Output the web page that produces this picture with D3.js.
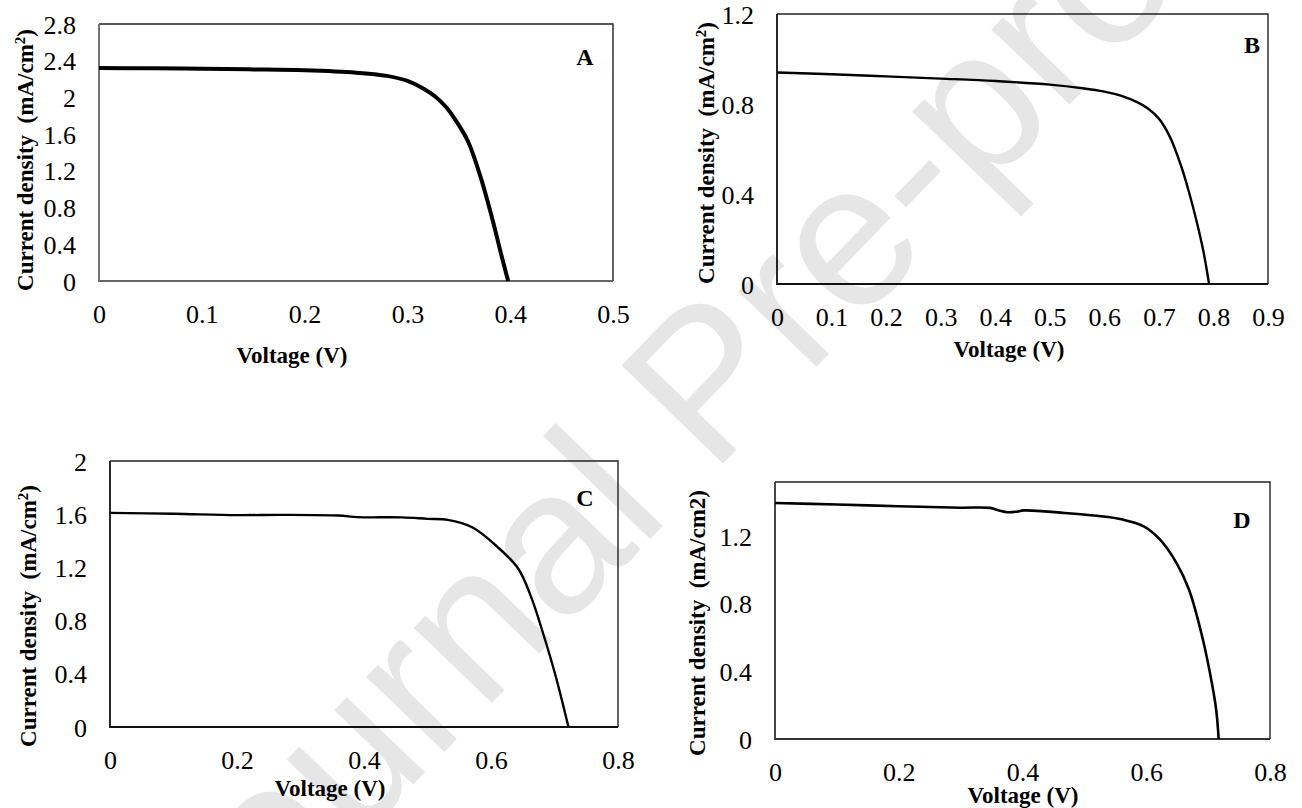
<!DOCTYPE html>
<html>
<head>
<meta charset="utf-8">
<script src="https://cdn.jsdelivr.net/npm/d3@7"></script>
<style>
  body { margin: 0; background: #fff; }
  svg { display: block; }
</style>
</head>
<body>
<svg id="chart" width="1302" height="808"></svg>
<script>
// J-V curves (voltage in V, current density in mA/cm2)
const voltageA = [0, 0.05, 0.1, 0.15, 0.2, 0.25, 0.28, 0.3, 0.315, 0.327, 0.338, 0.347, 0.359, 0.371, 0.383, 0.391, 0.398];
const currentA = [2.32, 2.317, 2.312, 2.305, 2.295, 2.27, 2.235, 2.18, 2.10, 2.01, 1.89, 1.75, 1.52, 1.14, 0.66, 0.30, 0];

const voltageB = [0, 0.1, 0.2, 0.3, 0.4, 0.5, 0.56, 0.6, 0.63, 0.66, 0.68, 0.7, 0.72, 0.74, 0.755, 0.77, 0.782, 0.792];
const currentB = [0.94, 0.932, 0.923, 0.913, 0.902, 0.886, 0.87, 0.855, 0.837, 0.808, 0.78, 0.735, 0.655, 0.53, 0.41, 0.27, 0.14, 0];

const voltageC = [0, 0.1, 0.2, 0.27, 0.36, 0.39, 0.46, 0.5, 0.532, 0.571, 0.61, 0.643, 0.663, 0.682, 0.702, 0.722];
const currentC = [1.61, 1.603, 1.593, 1.595, 1.59, 1.578, 1.576, 1.565, 1.557, 1.50, 1.355, 1.19, 0.98, 0.705, 0.38, 0];

const voltageD = [0, 0.1, 0.2, 0.3, 0.347, 0.362, 0.376, 0.39, 0.402, 0.468, 0.52, 0.562, 0.596, 0.622, 0.649, 0.669, 0.689, 0.703, 0.713, 0.717];
const currentD = [1.396, 1.387, 1.377, 1.368, 1.367, 1.352, 1.341, 1.344, 1.352, 1.337, 1.32, 1.298, 1.258, 1.18, 1.04, 0.884, 0.627, 0.39, 0.174, 0];

// tick labels
const xTicksA = [0, 0.1, 0.2, 0.3, 0.4, 0.5];
const yTicksA = [0, 0.4, 0.8, 1.2, 1.6, 2, 2.4, 2.8];
const xTicksB = [0, 0.1, 0.2, 0.3, 0.4, 0.5, 0.6, 0.7, 0.8, 0.9];
const yTicksB = [0, 0.4, 0.8, 1.2];
const xTicksC = [0, 0.2, 0.4, 0.6, 0.8];
const yTicksC = [0, 0.4, 0.8, 1.2, 1.6, 2];
const xTicksD = [0, 0.2, 0.4, 0.6, 0.8];
const yTicksD = [0, 0.4, 0.8, 1.2];

const SERIF = '"Liberation Serif", "DejaVu Serif", serif';

const panels = [
  { letter: 'A', v: voltageA, j: currentA, xTicks: xTicksA, yTicks: yTicksA, xMax: 0.5, yMax: 2.8,
    box: [99, 24, 613, 281], unit: '2', lineW: 4, frame: '#666',
    yTitle: [25, 160], xTitle: [292, 355], tag: [585, 57] },
  { letter: 'B', v: voltageB, j: currentB, xTicks: xTicksB, yTicks: yTicksB, xMax: 0.9, yMax: 1.2,
    box: [777, 14, 1268, 284], unit: '2', lineW: 2.4, frame: '#111',
    yTitle: [706, 153], xTitle: [1009, 349], tag: [1252, 45] },
  { letter: 'C', v: voltageC, j: currentC, xTicks: xTicksC, yTicks: yTicksC, xMax: 0.8, yMax: 2,
    box: [110, 461, 618, 727], unit: '2', lineW: 2.4, frame: '#111',
    yTitle: [28, 616], xTitle: [330, 788], tag: [585, 498] },
  { letter: 'D', v: voltageD, j: currentD, xTicks: xTicksD, yTicks: yTicksD, xMax: 0.8, yMax: 1.52,
    box: [775, 482, 1270, 739], unit: null, lineW: 2.6, frame: '#333',
    yTitle: [697, 623], xTitle: [1023, 795], tag: [1242, 520] }
];

const svg = d3.select('#chart').attr('font-family', SERIF);

// "Journal Pre-proof" watermark behind the charts
svg.append('text')
  .attr('transform', 'translate(205,1000) rotate(-46)')
  .attr('font-family', '"Liberation Sans", Arial, sans-serif')
  .attr('font-size', 205)
  .attr('fill', '#e6e6e6')
  .text('Journal Pre-proof');

panels.forEach(p => {
  const [x0, y0, x1, y1] = p.box;
  const x = d3.scaleLinear().domain([0, p.xMax]).range([x0, x1]);
  const y = d3.scaleLinear().domain([0, p.yMax]).range([y1, y0]);
  const g = svg.append('g');

  // x axis labels
  const gx = g.append('g')
    .attr('transform', `translate(0,${y1})`)
    .call(d3.axisBottom(x).tickValues(p.xTicks).tickSize(0).tickFormat(d => String(d)));
  gx.attr('font-family', SERIF).attr('font-size', 26);
  gx.select('.domain').remove();
  gx.selectAll('text')
    .attr('y', 33).attr('dy', '0.35em')
    .attr('fill', '#000');

  // y axis labels
  const gy = g.append('g')
    .attr('transform', `translate(${x0},0)`)
    .call(d3.axisLeft(y).tickValues(p.yTicks).tickSize(0).tickFormat(d => String(d)));
  gy.attr('font-family', SERIF).attr('font-size', 26);
  gy.select('.domain').remove();
  gy.selectAll('text')
    .attr('x', -23).attr('dy', '0.35em')
    .attr('fill', '#000');
  g.selectAll('.tick line').remove();

  // plot frame
  g.append('path')
    .attr('d', `M${x0},${y0}H${x1}V${y1}`)
    .attr('fill', 'none').attr('stroke', '#222').attr('stroke-width', 1.4);
  g.append('path')
    .attr('d', `M${x0},${y0}V${y1}H${x1}`)
    .attr('fill', 'none').attr('stroke', p.frame).attr('stroke-width', 1.8);

  // curve
  const pts = p.v.map((v, i) => [v, p.j[i]]);
  g.append('path')
    .datum(pts)
    .attr('fill', 'none')
    .attr('stroke', '#000')
    .attr('stroke-width', p.lineW)
    .attr('stroke-linejoin', 'round')
    .attr('d', d3.line().x(d => x(d[0])).y(d => y(d[1])).curve(d3.curveCatmullRom.alpha(0.5)));

  // panel letter
  g.append('text')
    .attr('x', p.tag[0]).attr('y', p.tag[1]).attr('dy', '0.35em')
    .attr('text-anchor', 'middle')
    .attr('font-weight', 'bold').attr('font-size', 24)
    .text(p.letter);

  // axis titles
  g.append('text')
    .attr('x', p.xTitle[0]).attr('y', p.xTitle[1]).attr('dy', '0.35em')
    .attr('text-anchor', 'middle')
    .attr('font-weight', 'bold').attr('font-size', 23)
    .text('Voltage (V)');

  const yt = g.append('text')
    .attr('transform', `translate(${p.yTitle[0]},${p.yTitle[1]}) rotate(-90)`)
    .attr('dy', '0.35em')
    .attr('text-anchor', 'middle')
    .attr('font-weight', 'bold').attr('font-size', 23)
    .style('white-space', 'pre');
  if (p.unit) {
    yt.append('tspan').text('Current density  (mA/cm');
    yt.append('tspan').attr('font-size', 15).attr('dy', '-0.55em').text(p.unit);
    yt.append('tspan').attr('dy', '0.36em').text(')');
  } else {
    yt.text('Current density  (mA/cm2)');
  }
});
</script>
</body>
</html>
